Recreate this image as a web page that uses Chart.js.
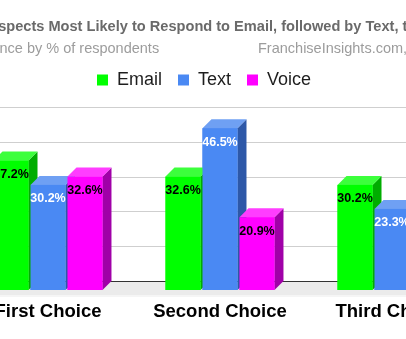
<!DOCTYPE html>
<html>
<head>
<meta charset="utf-8">
<title>Contact preference</title>
<script src="https://cdn.jsdelivr.net/npm/chart.js@4/dist/chart.umd.min.js"></script>
<style>
    html, body { margin: 0; padding: 0; background: #ffffff; overflow: hidden; }
    #wrap { position: absolute; left: -79px; top: 0; }
    canvas { display: block; background: #ffffff; }
</style>
</head>
<body>
<div id="wrap"><canvas id="chart" width="577" height="339"></canvas></div>
<script>
// --- data -------------------------------------------------------------
const categories = ["First Choice", "Second Choice", "Third Choice"];
const emailValues = [37.2, 32.6, 30.2];
const textValues = [30.2, 46.5, 23.3];
const voiceValues = [32.6, 20.9, 46.5];
const yTickStep = 10;
const yMax = 50;

const titleText = "Prospects Most Likely to Respond to Email, followed by Text, then Voice";
const subtitleLeft = "Preference by % of respondents";
const sourceText = "FranchiseInsights.com, 2019";

const FONT = '"Liberation Sans", Arial, sans-serif';

// depth of the fake 3D extrusion, px
const depthX = 9;
const depthY = 9;

Chart.defaults.font.family = FONT;

/**
 * Draws the back wall grid, the floor, and the extruded bars
 * (side + top faces, then front) so neighbours overlap correctly.
 */
const bars3d = {
    id: "bars3d",
    beforeDatasetsDraw(chart) {
        const { ctx, chartArea: a, scales: { y } } = chart;
        const base = y.getPixelForValue(0);
        ctx.save();

        // back wall gridlines
        ctx.strokeStyle = "#cfcfcf";
        ctx.lineWidth = 1;
        y.ticks.forEach((t) => {
            if (t.value <= 0) return;
            const py = Math.round(y.getPixelForValue(t.value) - depthY) + 0.5;
            ctx.beginPath();
            ctx.moveTo(a.left + depthX, py);
            ctx.lineTo(a.right + depthX, py);
            ctx.stroke();
        });

        // floor
        ctx.fillStyle = "#ebebeb";
        ctx.fillRect(a.left, base - depthY, a.right + depthX - a.left, depthY + 5);
        ctx.fillStyle = "#f5f5f5";
        ctx.fillRect(a.left, base + 5, a.right + depthX - a.left, 2);

        // back baseline
        ctx.strokeStyle = "#333333";
        ctx.beginPath();
        ctx.moveTo(a.left + depthX, Math.round(base - depthY) + 0.5);
        ctx.lineTo(a.right + depthX, Math.round(base - depthY) + 0.5);
        ctx.stroke();

        ctx.restore();
    },
    afterDatasetsDraw(chart) {
        const { ctx } = chart;
        const sets = chart.data.datasets;
        const metas = sets.map((d, i) => chart.getDatasetMeta(i));
        ctx.save();

        for (let j = 0; j < categories.length; j++) {
            sets.forEach((ds, i) => {
                const el = metas[i].data[j];
                const { x, y, base, width } = el.getProps(["x", "y", "base", "width"], true);
                const l = x - width / 2;
                const r = x + width / 2;

                // side face
                ctx.fillStyle = ds.sideColor;
                ctx.beginPath();
                ctx.moveTo(r, y);
                ctx.lineTo(r + depthX, y - depthY);
                ctx.lineTo(r + depthX, base - depthY);
                ctx.lineTo(r, base);
                ctx.closePath();
                ctx.fill();

                // top face
                ctx.fillStyle = ds.topColor;
                ctx.beginPath();
                ctx.moveTo(l, y);
                ctx.lineTo(l + depthX, y - depthY);
                ctx.lineTo(r + depthX, y - depthY);
                ctx.lineTo(r, y);
                ctx.closePath();
                ctx.fill();

                // front face
                ctx.fillStyle = ds.backgroundColor;
                ctx.fillRect(l, y, width, base - y);
            });
        }

        // value labels on the front faces
        ctx.font = "bold 12.5px " + FONT;
        ctx.textAlign = "center";
        ctx.textBaseline = "middle";
        sets.forEach((ds, i) => {
            metas[i].data.forEach((el, j) => {
                ctx.fillStyle = ds.labelColor;
                ctx.fillText(ds.data[j].toFixed(1) + "%", el.x, el.y + 14);
            });
        });

        ctx.restore();
    },
};

// title and the two subtitle pieces
const headerText = {
    id: "headerText",
    afterDraw(chart) {
        const { ctx, chartArea: a } = chart;
        ctx.save();
        ctx.textBaseline = "alphabetic";

        ctx.font = "bold 14.6px " + FONT;
        ctx.fillStyle = "#6a6a6a";
        ctx.textAlign = "center";
        ctx.fillText(titleText, (a.left + a.right + depthX) / 2, 31);

        ctx.font = "14.5px " + FONT;
        ctx.fillStyle = "#9c9c9c";
        ctx.textAlign = "left";
        ctx.fillText(subtitleLeft, a.left - 10, 53);
        ctx.fillText(sourceText, a.left + 296, 53);

        ctx.restore();
    },
};

new Chart(document.getElementById("chart").getContext("2d"), {
    type: "bar",
    data: {
        labels: categories,
        datasets: [
            {
                label: "Email",
                data: emailValues,
                backgroundColor: "#00ff00",
                borderColor: "#00ff00",
                topColor: "#3cff3c",
                sideColor: "#00ad00",
                labelColor: "#000000",
            },
            {
                label: "Text",
                data: textValues,
                backgroundColor: "#4a89f3",
                borderColor: "#4a89f3",
                topColor: "#6fa0f3",
                sideColor: "#2d58a8",
                labelColor: "#ffffff",
            },
            {
                label: "Voice",
                data: voiceValues,
                backgroundColor: "#ff00ff",
                borderColor: "#ff00ff",
                topColor: "#ff3dff",
                sideColor: "#a000a8",
                labelColor: "#000000",
            },
        ],
    },
    options: {
        responsive: false,
        devicePixelRatio: 1,
        animation: false,
        layout: { padding: { top: 55, left: 9, right: 20, bottom: 0 } },
        datasets: {
            bar: {
                categoryPercentage: 0.645,
                barPercentage: 0.946,
                borderWidth: 0,
            },
        },
        plugins: {
            title: { display: false },
            tooltip: { enabled: false },
            legend: {
                position: "top",
                labels: {
                    boxWidth: 11,
                    boxHeight: 11,
                    padding: 16,
                    color: "#1e1e1e",
                    font: { size: 18 },
                },
            },
        },
        scales: {
            x: {
                grid: { display: false, drawTicks: false },
                border: { display: false },
                ticks: {
                    color: "#000000",
                    font: { size: 18.5, weight: "bold" },
                    padding: 11,
                    maxRotation: 0,
                    autoSkip: false,
                },
                afterFit(scale) {
                    scale.height = 49;
                },
            },
            y: {
                min: 0,
                max: yMax,
                grid: { display: false, drawTicks: false },
                border: { display: false },
                ticks: {
                    stepSize: yTickStep,
                    color: "#757575",
                    font: { size: 12 },
                    callback: (v) => v + "%",
                },
                afterFit(scale) {
                    scale.width = 32;
                },
            },
            // empty band between the legend and the plot
            spacer: {
                axis: "x",
                type: "category",
                position: "top",
                grid: { display: false, drawTicks: false },
                border: { display: false },
                ticks: { display: false },
                afterFit(scale) {
                    scale.height = 17;
                },
            },
        },
    },
    plugins: [bars3d, headerText],
});
</script>
</body>
</html>
